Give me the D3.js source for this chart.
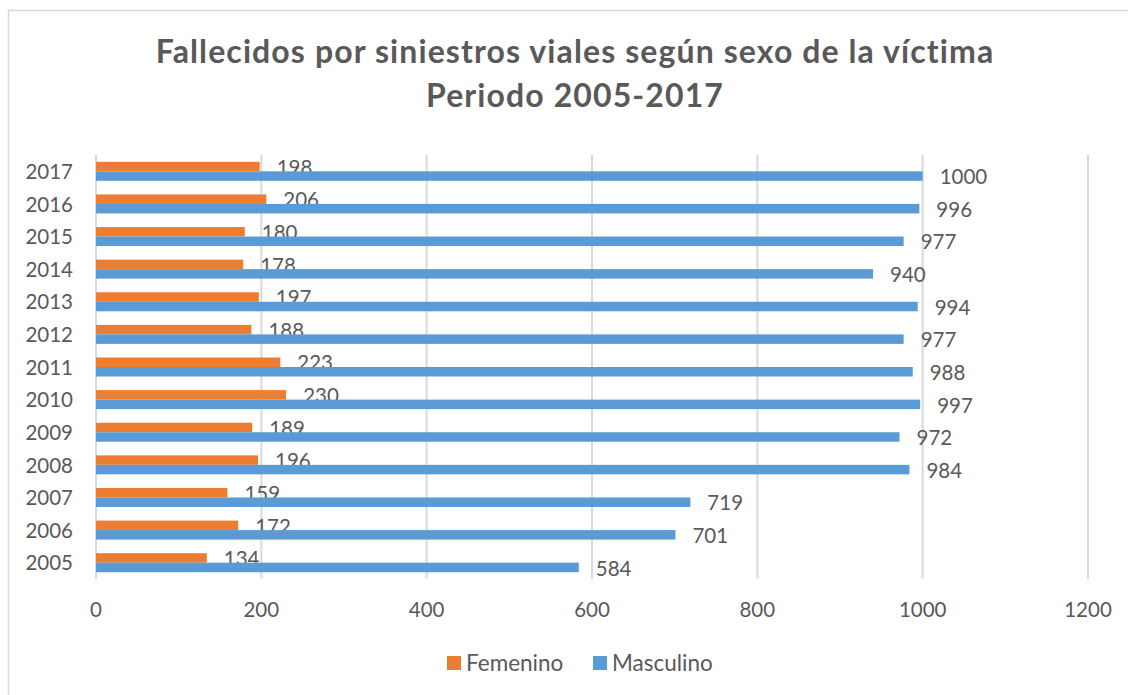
<!DOCTYPE html>
<html>
<head>
<meta charset="utf-8">
<script src="https://cdn.jsdelivr.net/npm/d3@7"></script>
<style>
  body { margin: 0; background: #fff; }
  text { font-family: Lato, "Open Sans", sans-serif; fill: #595959; }
</style>
</head>
<body>
<svg id="chart" width="1128" height="695"></svg>
<script>
const years = ["2005", "2006", "2007", "2008", "2009", "2010", "2011", "2012", "2013", "2014", "2015", "2016", "2017"];
const femenino = [134, 172, 159, 196, 189, 230, 223, 188, 197, 178, 180, 206, 198];
const masculino = [584, 701, 719, 984, 972, 997, 988, 977, 994, 940, 977, 996, 1000];
const xTicks = [0, 200, 400, 600, 800, 1000, 1200];
const seriesNames = ["Femenino", "Masculino"];
const colors = ["#ED7D31", "#5B9BD5"];

const svg = d3.select("#chart");
const plotLeft = 96, plotRight = 1088, plotTop = 155, plotBottom = 579;

// chart frame
svg.append("rect")
  .attr("x", 8.5).attr("y", 10.5)
  .attr("width", 1130).attr("height", 700)
  .attr("fill", "none")
  .attr("stroke", "#d9d9d9")
  .attr("stroke-width", 1.5);

// title
const title = svg.append("text")
  .attr("text-anchor", "middle")
  .style("font-weight", "bold")
  .style("font-size", "32px")
  .style("letter-spacing", "1.1px");
title.append("tspan").attr("x", 575).attr("y", 63)
  .text("Fallecidos por siniestros viales según sexo de la víctima");
title.append("tspan").attr("x", 575).attr("y", 107)
  .text("Periodo 2005-2017");

const x = d3.scaleLinear().domain([0, 1200]).range([plotLeft, plotRight]);
const y = d3.scaleBand().domain(years.slice().reverse()).range([plotTop, plotBottom]);
const barH = 9.5;

// gridlines
svg.append("g")
  .selectAll("line")
  .data(xTicks)
  .join("line")
  .attr("x1", d => x(d)).attr("x2", d => x(d))
  .attr("y1", plotTop).attr("y2", plotBottom)
  .attr("stroke", "#d9d9d9")
  .attr("stroke-width", 2);

// x tick labels
svg.append("g")
  .selectAll("text")
  .data(xTicks)
  .join("text")
  .attr("x", d => x(d))
  .attr("y", 610)
  .attr("dy", "0.35em")
  .attr("text-anchor", "middle")
  .style("font-size", "20.5px")
  .text(d => d);

// year labels
svg.append("g")
  .selectAll("text")
  .data(years)
  .join("text")
  .attr("x", 73)
  .attr("y", d => y(d) + y.bandwidth() / 2 + 0.5)
  .attr("dy", "0.35em")
  .attr("text-anchor", "end")
  .style("font-size", "20.5px")
  .text(d => d);

const series = [femenino, masculino];
series.forEach((vals, s) => {
  const rows = years.map((yr, i) => ({ year: yr, value: vals[i] }));
  const yOff = d => y(d.year) + y.bandwidth() / 2 - barH + s * barH;

  svg.append("g")
    .selectAll("rect")
    .data(rows)
    .join("rect")
    .attr("x", x(0))
    .attr("y", yOff)
    .attr("width", d => x(d.value) - x(0))
    .attr("height", barH)
    .attr("fill", colors[s]);

  svg.append("g")
    .selectAll("text")
    .data(rows)
    .join("text")
    .attr("x", d => x(d.value) + 17)
    .attr("y", d => yOff(d) + barH / 2 + 1)
    .attr("dy", "0.35em")
    .style("font-size", "20.5px")
    .text(d => d.value);
});

// legend
const legend = svg.append("g");
const legX = [447, 593];
seriesNames.forEach((name, i) => {
  legend.append("rect")
    .attr("x", legX[i]).attr("y", 656)
    .attr("width", 14).attr("height", 14)
    .attr("fill", colors[i]);
  legend.append("text")
    .attr("x", legX[i] + 19).attr("y", 663)
    .attr("dy", "0.35em")
    .style("font-size", "22.5px")
    .text(name);
});
</script>
</body>
</html>
